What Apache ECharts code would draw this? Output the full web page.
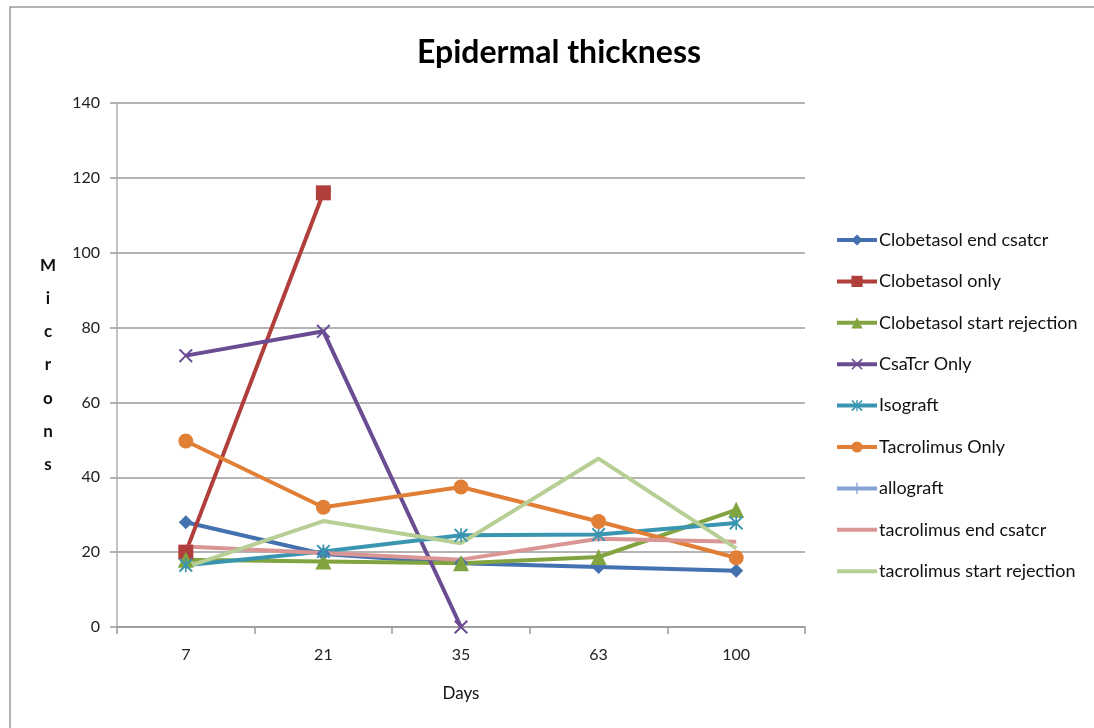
<!DOCTYPE html>
<html>
<head>
<meta charset="utf-8">
<script src="https://cdn.jsdelivr.net/npm/echarts@6/dist/echarts.min.js"></script>
<style>
  html, body { margin: 0; padding: 0; background: #fff; }
  #chart { width: 1094px; height: 728px; }
</style>
</head>
<body>
<div id="chart"></div>
<script>
// Days after grafting
const days = ['7', '21', '35', '63', '100'];

// Epidermal thickness in microns per treatment group
const clobetasolEndCsatcr = [28, 19.5, 17, 16, 15];
const clobetasolOnly = [20, 116, null, null, null];
const clobetasolStartRejection = [18, 17.5, 17, 18.7, 31.3];
const csaTcrOnly = [72.5, 79, 0, null, null];
const isograft = [16.5, 20.2, 24.5, 24.7, 27.8];
const tacrolimusOnly = [49.7, 32, 37.4, 28.2, 18.5];
const allograft = [null, null, null, null, null];
const tacrolimusEndCsatcr = [21.5, 19.8, 18, 23.6, 22.8];
const tacrolimusStartRejection = [16, 28.3, 22.4, 45, 21];

const yTicks = [0, 20, 40, 60, 80, 100, 120, 140];

const FONT = 'Lato, "Open Sans", sans-serif';

// Marker shapes not built into ECharts
const crossX = 'path://M0,1L1,0L5,4L9,0L10,1L6,5L10,9L9,10L5,6L1,10L0,9L4,5Z';
const asterisk = 'path://M0,1L1,0L5,4L9,0L10,1L6,5L10,9L9,10L5,6L1,10L0,9L4,5Z M4.4,0L5.6,0L5.6,10L4.4,10Z';
const plus = 'path://M4.4,0L5.6,0L5.6,4.4L10,4.4L10,5.6L5.6,5.6L5.6,10L4.4,10L4.4,5.6L0,5.6L0,4.4L4.4,4.4Z';
// Plain line legend key (tiny corner specks keep the full 40x14 box)
const plainLineKey = 'path://M0,0L0.01,0L0.01,0.01Z M0,5L40,5L40,9L0,9Z M39.99,14L40,14L40,13.99Z';

function line(name, data, color, symbol, size) {
  return {
    name: name,
    type: 'line',
    data: data,
    symbol: symbol,
    symbolSize: size,
    showSymbol: symbol !== 'none',
    connectNulls: false,
    lineStyle: { color: color, width: 4 },
    itemStyle: { color: color },
    emphasis: { disabled: true }
  };
}

const chart = echarts.init(document.getElementById('chart'), null, { renderer: 'canvas' });

chart.setOption({
  animation: false,
  backgroundColor: '#ffffff',
  textStyle: { fontFamily: FONT },
  title: {
    text: 'Epidermal thickness',
    left: 554,
    top: 32,
    textAlign: 'center',
    textStyle: { fontFamily: FONT, fontSize: 32, fontWeight: 'bold', color: '#000' }
  },
  graphic: [{
    type: 'rect',
    shape: { x: 10, y: 7, width: 1100, height: 740 },
    style: { fill: 'none', stroke: '#9a9a9a', lineWidth: 1.5 },
    silent: true
  }],
  legend: {
    orient: 'vertical',
    left: 835,
    top: 230,
    padding: 0,
    itemWidth: 40,
    itemHeight: 14,
    itemGap: 21.4,
    lineStyle: { width: 4 },
    textStyle: { fontFamily: FONT, fontSize: 18, lineHeight: 20, color: '#111', padding: [0, 0, 0, -3] },
    data: [
      'Clobetasol end csatcr', 'Clobetasol only', 'Clobetasol start rejection',
      'CsaTcr Only', 'Isograft', 'Tacrolimus Only', 'allograft',
      { name: 'tacrolimus end csatcr', icon: plainLineKey },
      { name: 'tacrolimus start rejection', icon: plainLineKey }
    ]
  },
  grid: { left: 117, right: 289, top: 103, bottom: 101, containLabel: false },
  xAxis: {
    type: 'category',
    data: days,
    boundaryGap: true,
    name: 'Days',
    nameLocation: 'middle',
    nameGap: 58,
    nameTextStyle: { fontFamily: FONT, fontSize: 17, color: '#111' },
    axisLine: { lineStyle: { color: '#9a9a9a', width: 1.5 } },
    axisTick: { show: true, length: 7, lineStyle: { color: '#9a9a9a', width: 1.5 } },
    axisLabel: { fontFamily: FONT, fontSize: 16, color: '#222', margin: 20 },
    splitLine: { show: false }
  },
  yAxis: {
    type: 'value',
    min: yTicks[0],
    max: yTicks[yTicks.length - 1],
    interval: yTicks[1] - yTicks[0],
    name: 'M\ni\nc\nr\no\nn\ns',
    nameLocation: 'middle',
    nameRotate: 0,
    nameGap: 69,
    nameTextStyle: { fontFamily: FONT, fontSize: 17, fontWeight: 'bold', color: '#111', lineHeight: 33.2, align: 'center' },
    axisLine: { show: true, lineStyle: { color: '#b0b0b0', width: 1.5 } },
    axisTick: { show: true, length: 7, lineStyle: { color: '#9a9a9a', width: 1.5 } },
    axisLabel: { fontFamily: FONT, fontSize: 16, color: '#222', margin: 17 },
    splitLine: { show: true, lineStyle: { color: '#9a9a9a', width: 1.5 } }
  },
  series: [
    line('Clobetasol end csatcr', clobetasolEndCsatcr, '#4471B0', 'diamond', 14),
    line('Clobetasol only', clobetasolOnly, '#B03E3B', 'rect', 15),
    line('Clobetasol start rejection', clobetasolStartRejection, '#82A440', 'triangle', 16),
    line('CsaTcr Only', csaTcrOnly, '#6A4C93', crossX, 14),
    line('Isograft', isograft, '#3A95B0', asterisk, 14),
    line('Tacrolimus Only', tacrolimusOnly, '#E07F35', 'circle', 15),
    line('allograft', allograft, '#86A4D6', plus, 14),
    line('tacrolimus end csatcr', tacrolimusEndCsatcr, '#D99694', 'none', 0),
    line('tacrolimus start rejection', tacrolimusStartRejection, '#B7CE94', 'none', 0)
  ]
});
</script>
</body>
</html>
